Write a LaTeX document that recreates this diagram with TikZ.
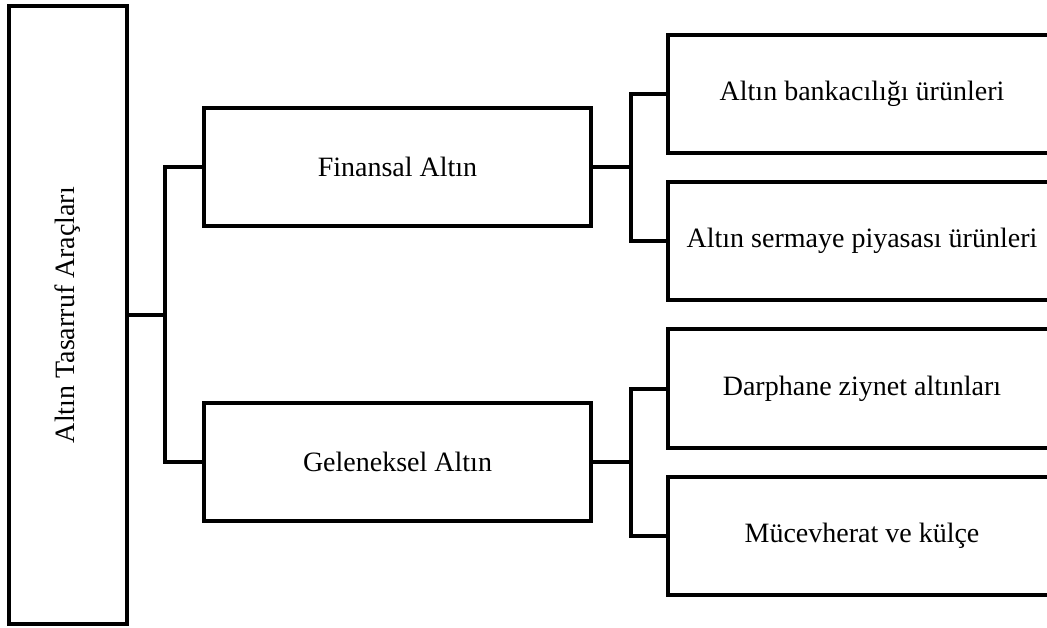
\documentclass[tikz,border=0pt]{standalone}
\usepackage{fontspec}
\setmainfont{Liberation Serif}
\usepackage{tikz}

\begin{document}
\begin{tikzpicture}[x=1pt,y=-1pt,line width=4pt]
		\tikzstyle{box}=[draw,shape=rectangle,inner sep=0pt,minimum width=387pt,minimum height=118pt,font=\fontsize{28}{32}\selectfont]
		\tikzstyle{rootbox}=[box,minimum width=118pt,minimum height=618pt]
		\tikzstyle{leaf}=[box,minimum width=388pt]
		
		\useasboundingbox (0,0) rectangle (1047,628);
		\clip (0,0) rectangle (1047,628);
		
		\node[rootbox](root) at (68,315){\rotatebox{90}{Altın Tasarruf Araçları}};
		
		\node[box](fin) at (397.5,167){Finansal Altın};
		\node[box](gel) at (397.5,462){Geleneksel Altın};
		
		\node[leaf](bank) at (862,94){Altın bankacılığı ürünleri};
		\node[leaf](serm) at (862,241){Altın sermaye piyasası ürünleri};
		\node[leaf](darp) at (862,388.5){Darphane ziynet altınları};
		\node[leaf](muc) at (862,536){Mücevherat ve külçe};
		
		\coordinate(j0) at (165,315);
		\coordinate(j1) at (631,167);
		\coordinate(j2) at (631,462);
		
		\draw (root.east) -- (j0);
		\draw (fin.west) -| (j0) |- (gel.west);
		
		\draw (fin.east) -- (j1);
		\draw (bank.west) -| (j1) |- (serm.west);
		
		\draw (gel.east) -- (j2);
		\draw (darp.west) -| (j2) |- (muc.west);
\end{tikzpicture}
\end{document}
